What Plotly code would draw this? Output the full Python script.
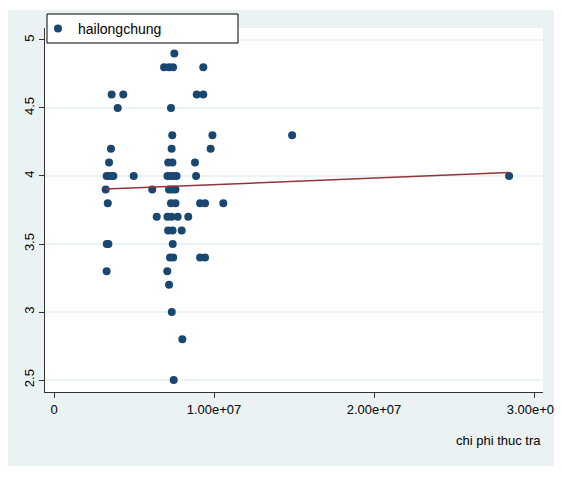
import numpy as np
import plotly.graph_objects as go

# chi phi thuc tra (in millions) and hailongchung values
x_millions = [
    7.52,
    6.88, 7.19, 7.44, 9.33,
    3.60, 4.33, 8.92, 9.33,
    3.98, 7.31,
    7.39, 9.90, 14.88,
    3.56, 7.35, 9.79,
    3.44, 7.14, 7.40, 8.81,
    3.29, 3.50, 3.71, 4.98, 7.09, 7.28, 7.47, 7.66, 8.88, 28.44,
    3.23, 6.14, 7.19, 7.38, 7.59,
    3.36, 7.31, 7.59, 9.13, 9.44, 10.58,
    6.42, 7.09, 7.34, 7.73, 8.39,
    7.13, 7.41, 7.98,
    3.30, 3.40, 7.42,
    7.25, 7.45, 9.13, 9.44,
    3.29, 7.08,
    7.19,
    7.36,
    8.02,
    7.48,
]
y_values = [
    4.9,
    4.8, 4.8, 4.8, 4.8,
    4.6, 4.6, 4.6, 4.6,
    4.5, 4.5,
    4.3, 4.3, 4.3,
    4.2, 4.2, 4.2,
    4.1, 4.1, 4.1, 4.1,
    4.0, 4.0, 4.0, 4.0, 4.0, 4.0, 4.0, 4.0, 4.0, 4.0,
    3.9, 3.9, 3.9, 3.9, 3.9,
    3.8, 3.8, 3.8, 3.8, 3.8, 3.8,
    3.7, 3.7, 3.7, 3.7, 3.7,
    3.6, 3.6, 3.6,
    3.5, 3.5, 3.5,
    3.4, 3.4, 3.4, 3.4,
    3.3, 3.3,
    3.2,
    3.0,
    2.8,
    2.5,
]
series_name = "hailongchung"
x_title = "chi phi thuc tra"
x_tickvals = [0, 1e7, 2e7, 3e7]
x_ticktext = ["0", "1.00e+07", "2.00e+07", "3.00e+07"]
y_tickvals = [2.5, 3, 3.5, 4, 4.5, 5]
y_ticktext = ["2.5", "3", "3.5", "4", "4.5", "5"]

x = np.array(x_millions) * 1e6
y = np.array(y_values)
slope, intercept = np.polyfit(x, y, 1)
fit_x = np.array([x.min(), x.max()])
fit_y = slope * fit_x + intercept

# page has an 8px body margin, so the figure is offset by 8px
OFF = 8
W, H = 562 - OFF, 495 - OFF
L, T = 45 - OFF, 28 - OFF
R, B = W - (543 - OFF), H - (392 - OFF)
pw, ph = W - L - R, H - T - B

def px(v):
    return (v - OFF - L) / pw

def py(v):
    return (H - B - (v - OFF)) / ph

fig = go.Figure()
fig.add_trace(go.Scatter(
    x=x, y=y, mode="markers", name=series_name,
    marker=dict(color="#1A476F", size=8, line=dict(width=0)),
))
fig.add_trace(go.Scatter(
    x=fit_x, y=fit_y, mode="lines", showlegend=False,
    line=dict(color="#90353B", width=1.5),
))

bg = "#EAF2F3"
fig.update_layout(
    width=W, height=H,
    margin=dict(l=L, r=R, t=T, b=B, pad=0, autoexpand=False),
    paper_bgcolor="white",
    plot_bgcolor="rgba(0,0,0,0)",
    font=dict(family="Liberation Sans, Arial, sans-serif", size=13, color="black"),
    shapes=[
        dict(type="rect", xref="paper", yref="paper", layer="below",
             x0=px(5), x1=px(557), y0=py(466), y1=py(10),
             fillcolor=bg, line=dict(width=0)),
        dict(type="rect", xref="paper", yref="paper", layer="below",
             x0=0, x1=1, y0=0, y1=1,
             fillcolor="white", line=dict(width=0)),
        # legend frame
        dict(type="rect", xref="paper", yref="paper", layer="above",
             x0=px(47), x1=px(238), y0=py(43), y1=py(14),
             fillcolor="white", line=dict(color="black", width=1)),
    ],
    showlegend=True,
    legend=dict(
        x=px(38), y=py(13), xanchor="left", yanchor="top",
        bgcolor="rgba(0,0,0,0)", borderwidth=0,
        font=dict(size=14),
    ),
    annotations=[
        dict(text=x_title, xref="paper", yref="paper", x=1.0, y=py(440),
             xanchor="right", yanchor="middle", showarrow=False,
             font=dict(size=13)),
    ],
)
fig.update_xaxes(
    range=[-0.5625e6, 30.56e6],
    tickvals=x_tickvals, ticktext=x_ticktext,
    ticks="outside", ticklen=5, tickcolor="#333", showgrid=False,
    showline=True, linecolor="#333", linewidth=1, zeroline=False,
)
fig.update_yaxes(
    range=[2.412, 5.088],
    tickvals=y_tickvals, ticktext=y_ticktext, tickangle=-90,
    ticks="outside", ticklen=5, tickcolor="#333",
    showgrid=True, gridcolor=bg, gridwidth=1.5,
    showline=True, linecolor="#333", linewidth=1, zeroline=False,
)
fig.write_html("out.html")
